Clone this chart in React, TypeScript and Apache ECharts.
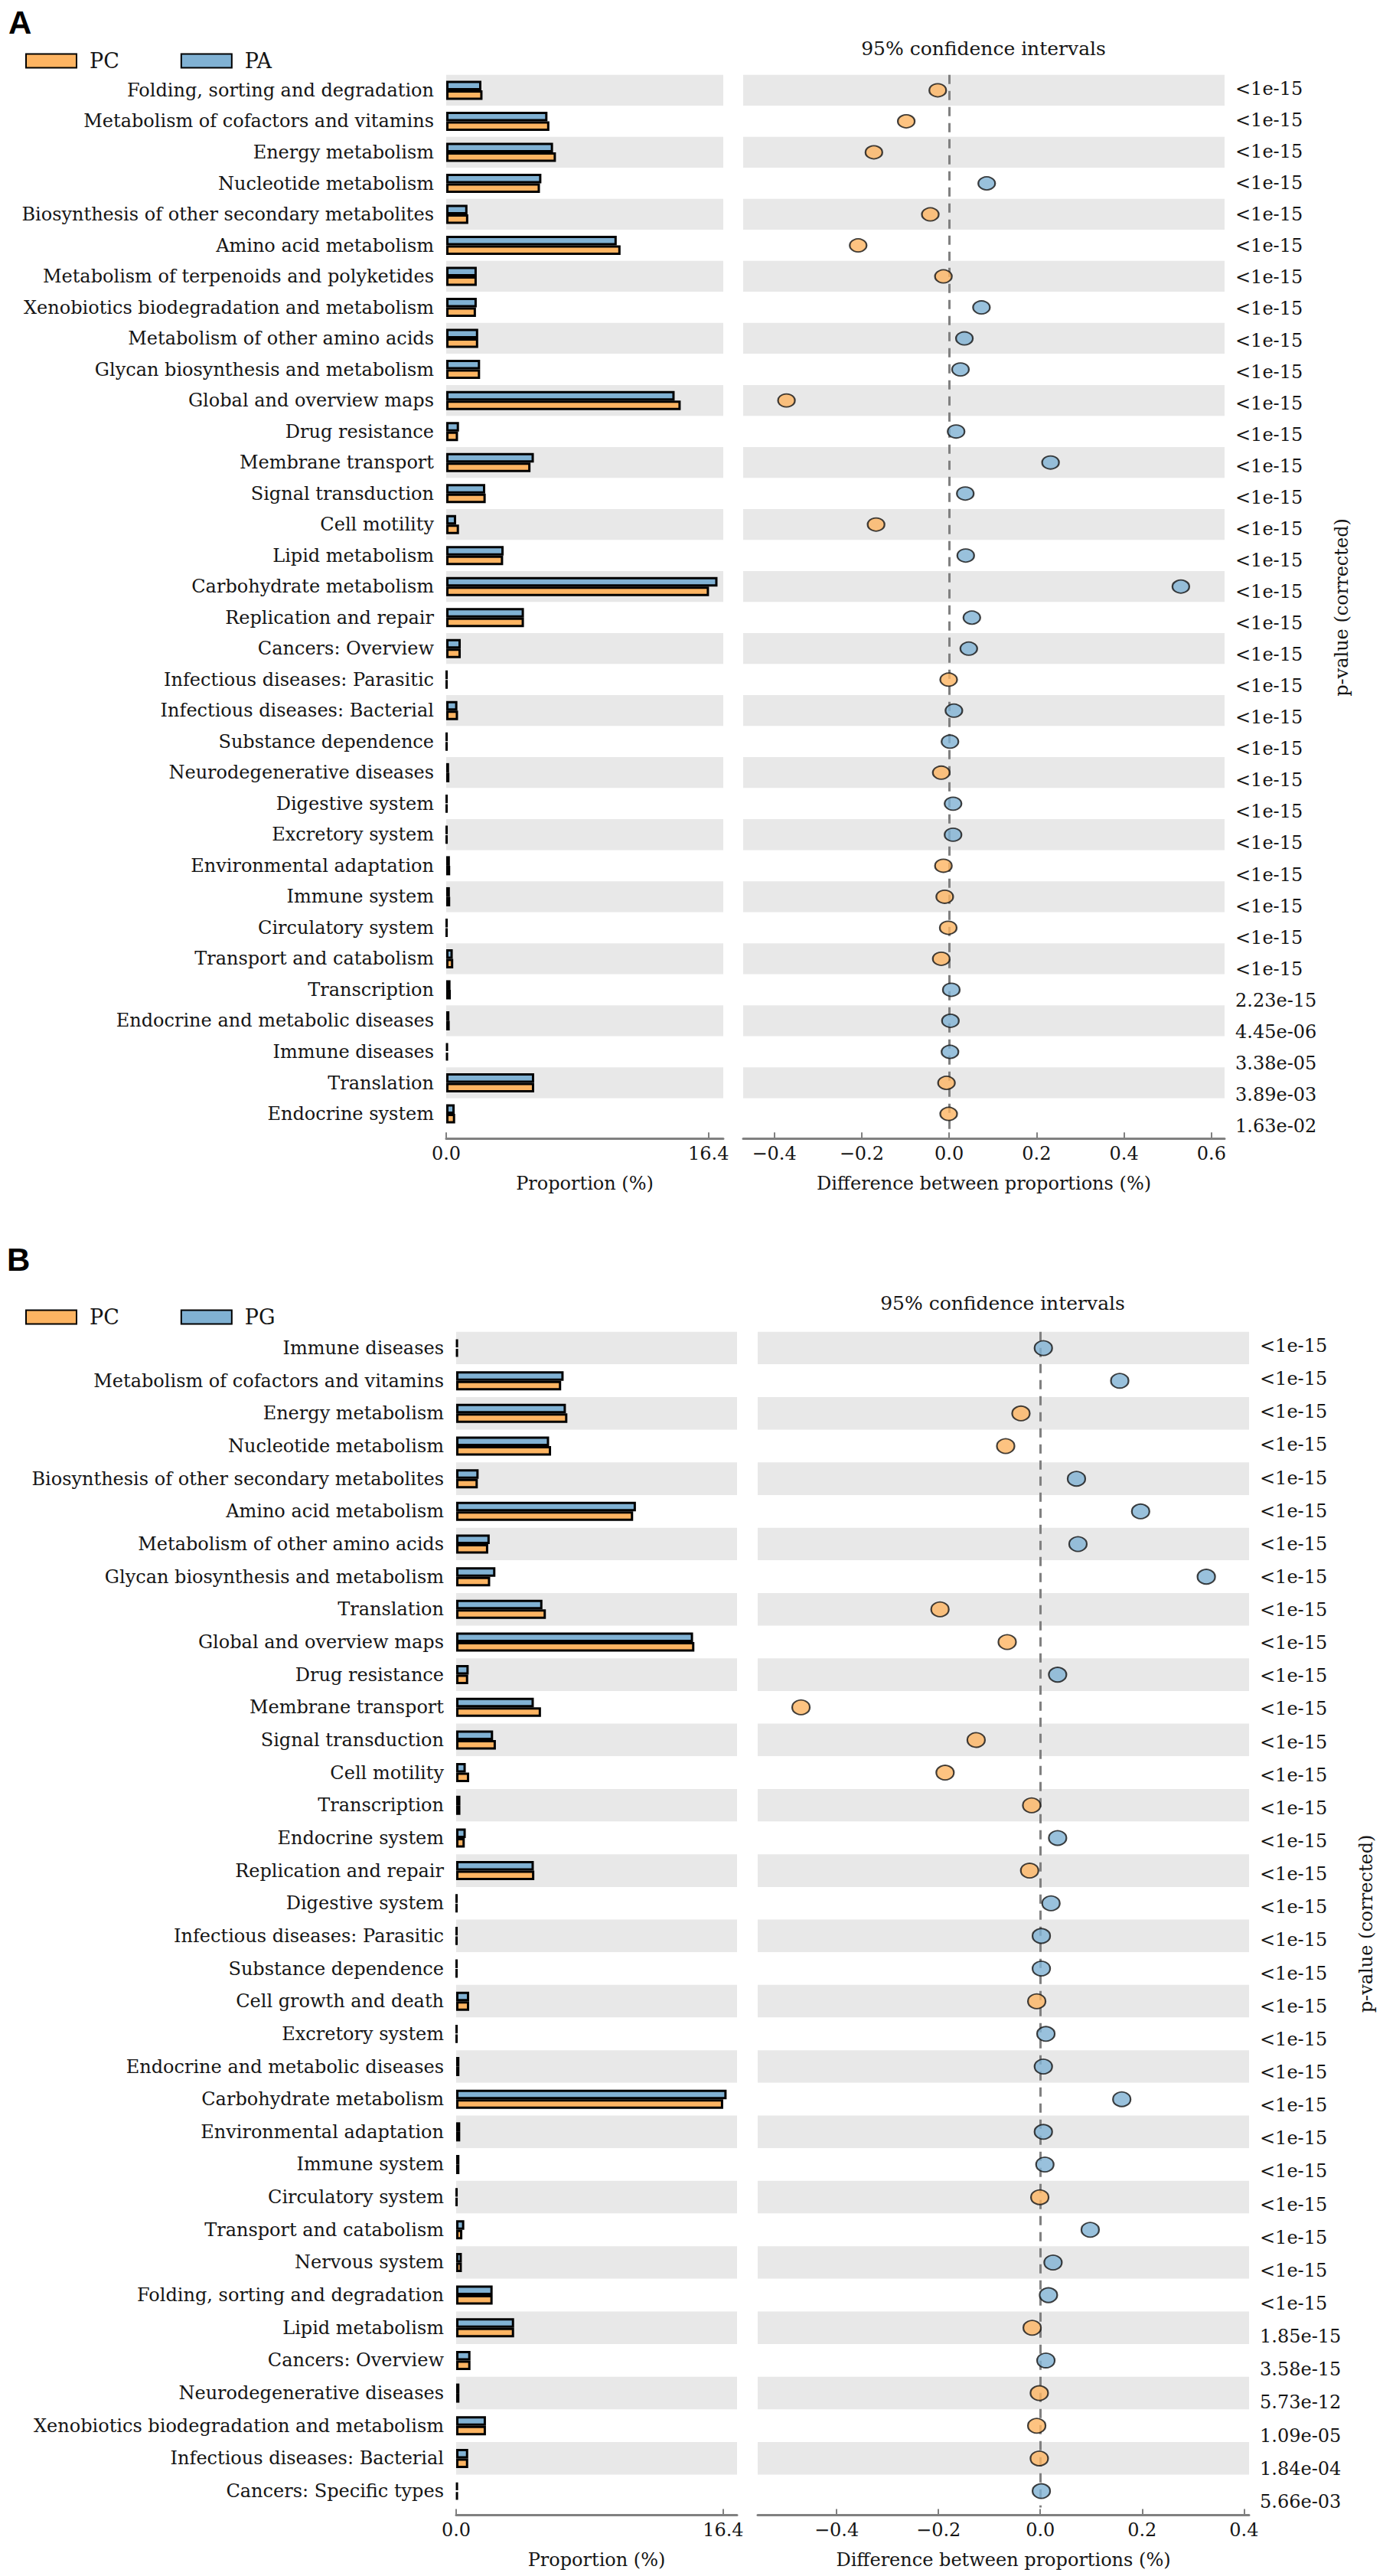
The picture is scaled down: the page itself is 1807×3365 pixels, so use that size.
import React, { useEffect, useRef } from 'react';
import * as echarts from 'echarts';

// ---------------- Panel A data ----------------
const catA = [
  'Folding, sorting and degradation',
  'Metabolism of cofactors and vitamins',
  'Energy metabolism',
  'Nucleotide metabolism',
  'Biosynthesis of other secondary metabolites',
  'Amino acid metabolism',
  'Metabolism of terpenoids and polyketides',
  'Xenobiotics biodegradation and metabolism',
  'Metabolism of other amino acids',
  'Glycan biosynthesis and metabolism',
  'Global and overview maps',
  'Drug resistance',
  'Membrane transport',
  'Signal transduction',
  'Cell motility',
  'Lipid metabolism',
  'Carbohydrate metabolism',
  'Replication and repair',
  'Cancers: Overview',
  'Infectious diseases: Parasitic',
  'Infectious diseases: Bacterial',
  'Substance dependence',
  'Neurodegenerative diseases',
  'Digestive system',
  'Excretory system',
  'Environmental adaptation',
  'Immune system',
  'Circulatory system',
  'Transport and catabolism',
  'Transcription',
  'Endocrine and metabolic diseases',
  'Immune diseases',
  'Translation',
  'Endocrine system',
];
const pcA = [2.27, 6.45, 6.86, 5.86, 1.38, 10.9, 1.91, 1.86, 2.0, 2.12, 14.66, 0.74, 5.27, 2.47, 0.8, 3.56, 16.43, 4.86, 0.91, 0.05, 0.74, 0.05, 0.2, 0.05, 0.05, 0.25, 0.25, 0.05, 0.44, 0.29, 0.22, 0.1, 5.5, 0.56];
const paA = [2.2, 6.33, 6.68, 5.95, 1.33, 10.66, 1.91, 1.91, 2.0, 2.12, 14.28, 0.8, 5.48, 2.44, 0.62, 3.59, 16.96, 4.86, 0.91, 0.05, 0.7, 0.05, 0.18, 0.05, 0.05, 0.23, 0.23, 0.05, 0.41, 0.27, 0.2, 0.1, 5.5, 0.53];
const diffA = [-0.026, -0.098, -0.172, 0.086, -0.043, -0.208, -0.013, 0.074, 0.035, 0.026, -0.372, 0.016, 0.232, 0.037, -0.167, 0.038, 0.53, 0.052, 0.045, -0.001, 0.011, 0.002, -0.018, 0.009, 0.009, -0.013, -0.01, -0.002, -0.018, 0.005, 0.003, 0.002, -0.006, -0.001];
const pvalA = [
  '<1e-15', '<1e-15', '<1e-15', '<1e-15', '<1e-15', '<1e-15', '<1e-15', '<1e-15', '<1e-15', '<1e-15',
  '<1e-15', '<1e-15', '<1e-15', '<1e-15', '<1e-15', '<1e-15', '<1e-15', '<1e-15', '<1e-15', '<1e-15',
  '<1e-15', '<1e-15', '<1e-15', '<1e-15', '<1e-15', '<1e-15', '<1e-15', '<1e-15', '<1e-15',
  '2.23e-15', '4.45e-06', '3.38e-05', '3.89e-03', '1.63e-02',
];

// ---------------- Panel B data ----------------
const catB = [
  'Immune diseases',
  'Metabolism of cofactors and vitamins',
  'Energy metabolism',
  'Nucleotide metabolism',
  'Biosynthesis of other secondary metabolites',
  'Amino acid metabolism',
  'Metabolism of other amino acids',
  'Glycan biosynthesis and metabolism',
  'Translation',
  'Global and overview maps',
  'Drug resistance',
  'Membrane transport',
  'Signal transduction',
  'Cell motility',
  'Transcription',
  'Endocrine system',
  'Replication and repair',
  'Digestive system',
  'Infectious diseases: Parasitic',
  'Substance dependence',
  'Cell growth and death',
  'Excretory system',
  'Endocrine and metabolic diseases',
  'Carbohydrate metabolism',
  'Environmental adaptation',
  'Immune system',
  'Circulatory system',
  'Transport and catabolism',
  'Nervous system',
  'Folding, sorting and degradation',
  'Lipid metabolism',
  'Cancers: Overview',
  'Neurodegenerative diseases',
  'Xenobiotics biodegradation and metabolism',
  'Infectious diseases: Bacterial',
  'Cancers: Specific types',
];
const pcB = [0.1, 6.45, 6.83, 5.83, 1.33, 10.87, 1.97, 2.09, 5.51, 14.63, 0.74, 5.21, 2.44, 0.8, 0.26, 0.53, 4.8, 0.05, 0.05, 0.05, 0.8, 0.05, 0.2, 16.4, 0.25, 0.2, 0.05, 0.38, 0.35, 2.24, 3.56, 0.88, 0.2, 1.83, 0.74, 0.1];
const pgB = [0.1, 6.6, 6.74, 5.71, 1.38, 11.04, 2.06, 2.41, 5.3, 14.55, 0.77, 4.77, 2.27, 0.59, 0.26, 0.59, 4.77, 0.05, 0.05, 0.05, 0.8, 0.05, 0.2, 16.61, 0.25, 0.2, 0.05, 0.5, 0.35, 2.24, 3.56, 0.88, 0.2, 1.83, 0.74, 0.1];
const diffB = [0.006, 0.156, -0.038, -0.068, 0.071, 0.197, 0.074, 0.326, -0.197, -0.065, 0.034, -0.47, -0.126, -0.187, -0.017, 0.034, -0.021, 0.021, 0.002, 0.002, -0.007, 0.011, 0.006, 0.16, 0.006, 0.009, -0.001, 0.098, 0.025, 0.016, -0.016, 0.011, -0.002, -0.007, -0.002, 0.002];
const pvalB = [
  '<1e-15', '<1e-15', '<1e-15', '<1e-15', '<1e-15', '<1e-15', '<1e-15', '<1e-15', '<1e-15', '<1e-15',
  '<1e-15', '<1e-15', '<1e-15', '<1e-15', '<1e-15', '<1e-15', '<1e-15', '<1e-15', '<1e-15', '<1e-15',
  '<1e-15', '<1e-15', '<1e-15', '<1e-15', '<1e-15', '<1e-15', '<1e-15', '<1e-15', '<1e-15', '<1e-15',
  '1.85e-15', '3.58e-15', '5.73e-12', '1.09e-05', '1.84e-04', '5.66e-03',
];

const propTicks = [0, 16.4];
const diffTicksA = [-0.4, -0.2, 0, 0.2, 0.4, 0.6];
const diffTicksB = [-0.4, -0.2, 0, 0.2, 0.4];

// ---------------- styles ----------------
const ORANGE = '#fdb462';
const BLUE = '#80b1d3';
const BAND = '#e8e8e8';
const AXIS = '#808080';
const TEXT = '#151515';
const FONT = '"DejaVu Serif", serif';
const FS = 24;

const fmtSigned = (v: number) => (v < -1e-9 ? '\u2212' : '') + Math.abs(v).toFixed(1);

interface PanelCfg {
  g: number;
  cats: string[];
  pc: number[];
  other: number[];
  otherName: string;
  diff: number[];
  pvals: string[];
  top: number;
  height: number;
  pTop: number;
  pHeight: number;
  leftL: number;
  leftW: number;
  propMax: number;
  rightL: number;
  rightW: number;
  dMin: number;
  dMax: number;
  dTicks: number[];
  pAxisX: number;
  pNameGap: number;
  dot: number[];
  axisOffset: number;
}

function buildPanel(c: PanelCfg) {
  const grid = [
    { left: c.leftL, width: c.leftW, top: c.top, height: c.height },
    { left: c.rightL, width: c.rightW, top: c.top, height: c.height },
    { left: c.pAxisX - 1, width: 1, top: c.pTop, height: c.pHeight },
  ];
  const textStyle = { fontFamily: FONT, fontSize: FS, color: TEXT };
  const xAxis = [
    {
      gridIndex: c.g,
      type: 'value',
      min: 0,
      max: c.propMax,
      offset: c.axisOffset,
      axisLine: { show: true, lineStyle: { color: AXIS, width: 3 } },
      axisTick: { show: true, inside: true, length: 8, customValues: propTicks, lineStyle: { color: AXIS, width: 2 } },
      axisLabel: { customValues: propTicks, formatter: (v: number) => v.toFixed(1), margin: 8, ...textStyle },
      splitLine: { show: false },
      name: 'Proportion (%)',
      nameLocation: 'middle',
      nameGap: 47,
      nameTextStyle: textStyle,
    },
    {
      gridIndex: c.g + 1,
      type: 'value',
      min: c.dMin,
      max: c.dMax,
      offset: c.axisOffset,
      axisLine: { show: true, lineStyle: { color: AXIS, width: 3 } },
      axisTick: { show: true, inside: true, length: 8, customValues: c.dTicks, lineStyle: { color: AXIS, width: 2 } },
      axisLabel: { customValues: c.dTicks, formatter: fmtSigned, margin: 8, ...textStyle },
      splitLine: { show: false },
      name: 'Difference between proportions (%)',
      nameLocation: 'middle',
      nameGap: 47,
      nameTextStyle: textStyle,
    },
    { gridIndex: c.g + 2, type: 'value', min: 0, max: 1, show: false },
  ];
  const catAxisBase = {
    type: 'category',
    data: c.cats,
    inverse: true,
    axisLine: { show: false },
    axisTick: { show: false, interval: 0 },
    splitLine: { show: false },
    splitArea: { show: true, interval: 0, areaStyle: { color: [BAND, '#ffffff'] } },
  };
  const yAxis = [
    {
      ...catAxisBase,
      gridIndex: c.g,
      axisLabel: { interval: 0, margin: 16, ...textStyle },
    },
    {
      ...catAxisBase,
      gridIndex: c.g + 1,
      axisLabel: { show: false, interval: 0 },
    },
    {
      gridIndex: c.g + 2,
      type: 'category',
      data: c.pvals,
      inverse: true,
      position: 'right',
      axisLine: { show: false },
      axisTick: { show: false },
      splitLine: { show: false },
      axisLabel: { interval: 0, margin: 13, align: 'left', ...textStyle },
      name: 'p-value (corrected)',
      nameLocation: 'middle',
      nameRotate: 90,
      nameGap: c.pNameGap,
      nameTextStyle: textStyle,
    },
  ];
  const barStyle = { borderColor: '#000', borderWidth: 3 };
  const series = [
    {
      type: 'bar',
      name: c.otherName,
      xAxisIndex: c.g,
      yAxisIndex: c.g,
      data: c.other,
      barWidth: 12.5,
      barGap: '0%',
      itemStyle: { color: BLUE, ...barStyle },
      silent: true,
    },
    {
      type: 'bar',
      name: 'PC',
      xAxisIndex: c.g,
      yAxisIndex: c.g,
      data: c.pc,
      barWidth: 12.5,
      barGap: '0%',
      itemStyle: { color: ORANGE, ...barStyle },
      silent: true,
    },
    {
      type: 'scatter',
      xAxisIndex: c.g + 1,
      yAxisIndex: c.g + 1,
      symbol: 'circle',
      symbolSize: c.dot,
      silent: true,
      z: 5,
      data: c.diff.map((v, i) => ({
        value: [v, i],
        itemStyle: { color: v < 0 ? ORANGE : BLUE, borderColor: '#111', borderWidth: 2 },
      })),
      markLine: {
        silent: true,
        symbol: ['none', 'none'],
        label: { show: false },
        lineStyle: { color: AXIS, type: [12, 9], width: 3 },
        data: [{ xAxis: 0 }],
        z: 1,
      },
    },
  ];
  return { grid, xAxis, yAxis, series };
}

function buildOption() {
  const a = buildPanel({
    g: 0,
    cats: catA,
    pc: pcA,
    other: paA,
    otherName: 'PA',
    diff: diffA,
    pvals: pvalA,
    top: 97.7,
    height: 1377.6,
    pTop: 95.5,
    pHeight: 1396,
    leftL: 583,
    leftW: 362,
    propMax: 17.32,
    rightL: 971,
    rightW: 629,
    dMin: -0.471,
    dMax: 0.63,
    dTicks: diffTicksA,
    pAxisX: 1601,
    pNameGap: 140,
    dot: [22, 17],
    axisOffset: 12,
  });
  const b = buildPanel({
    g: 3,
    cats: catB,
    pc: pcB,
    other: pgB,
    otherName: 'PG',
    diff: diffB,
    pvals: pvalB,
    top: 1739.7,
    height: 1535.7,
    pTop: 1736.4,
    pHeight: 1553,
    leftL: 596,
    leftW: 367,
    propMax: 17.25,
    rightL: 990,
    rightW: 642,
    dMin: -0.555,
    dMax: 0.41,
    dTicks: diffTicksB,
    pAxisX: 1633,
    pNameGap: 140,
    dot: [23, 19],
    axisOffset: 10,
  });
  const legendBase = {
    orient: 'horizontal',
    icon: 'rect',
    itemWidth: 66,
    itemHeight: 18,
    itemGap: 80,
    selectedMode: false,
    textStyle: { fontFamily: FONT, fontSize: 27, color: TEXT, padding: [0, 0, 0, 12] },
  };
  return {
    animation: false,
    backgroundColor: '#ffffff',
    grid: [...a.grid, ...b.grid],
    xAxis: [...a.xAxis, ...b.xAxis],
    yAxis: [...a.yAxis, ...b.yAxis],
    series: [...a.series, ...b.series],
    legend: [
      { ...legendBase, left: 28, top: 61, data: ['PC', 'PA'] },
      { ...legendBase, left: 28, top: 1702, data: ['PC', 'PG'] },
    ],
    graphic: [
      { type: 'text', left: 11, top: 8, style: { text: 'A', fontFamily: '"Liberation Sans", Arial, sans-serif', fontWeight: 'bold', fontSize: 42, fill: '#000' } },
      { type: 'text', left: 9, top: 1624, style: { text: 'B', fontFamily: '"Liberation Sans", Arial, sans-serif', fontWeight: 'bold', fontSize: 42, fill: '#000' } },
      { type: 'text', x: 1285, y: 63, style: { text: '95% confidence intervals', fontFamily: FONT, fontSize: 25, fill: TEXT, textAlign: 'center', textVerticalAlign: 'middle' } },
      { type: 'text', x: 1310, y: 1702, style: { text: '95% confidence intervals', fontFamily: FONT, fontSize: 25, fill: TEXT, textAlign: 'center', textVerticalAlign: 'middle' } },
    ],
  };
}

export default function App() {
  const ref = useRef<HTMLDivElement>(null);
  useEffect(() => {
    document.body.style.margin = '0';
    const chart = echarts.init(ref.current as HTMLDivElement, null, { renderer: 'svg' });
    chart.setOption(buildOption() as any);
    return () => chart.dispose();
  }, []);
  return <div ref={ref} style={{ width: 1807, height: 3365, background: '#fff' }} />;
}
